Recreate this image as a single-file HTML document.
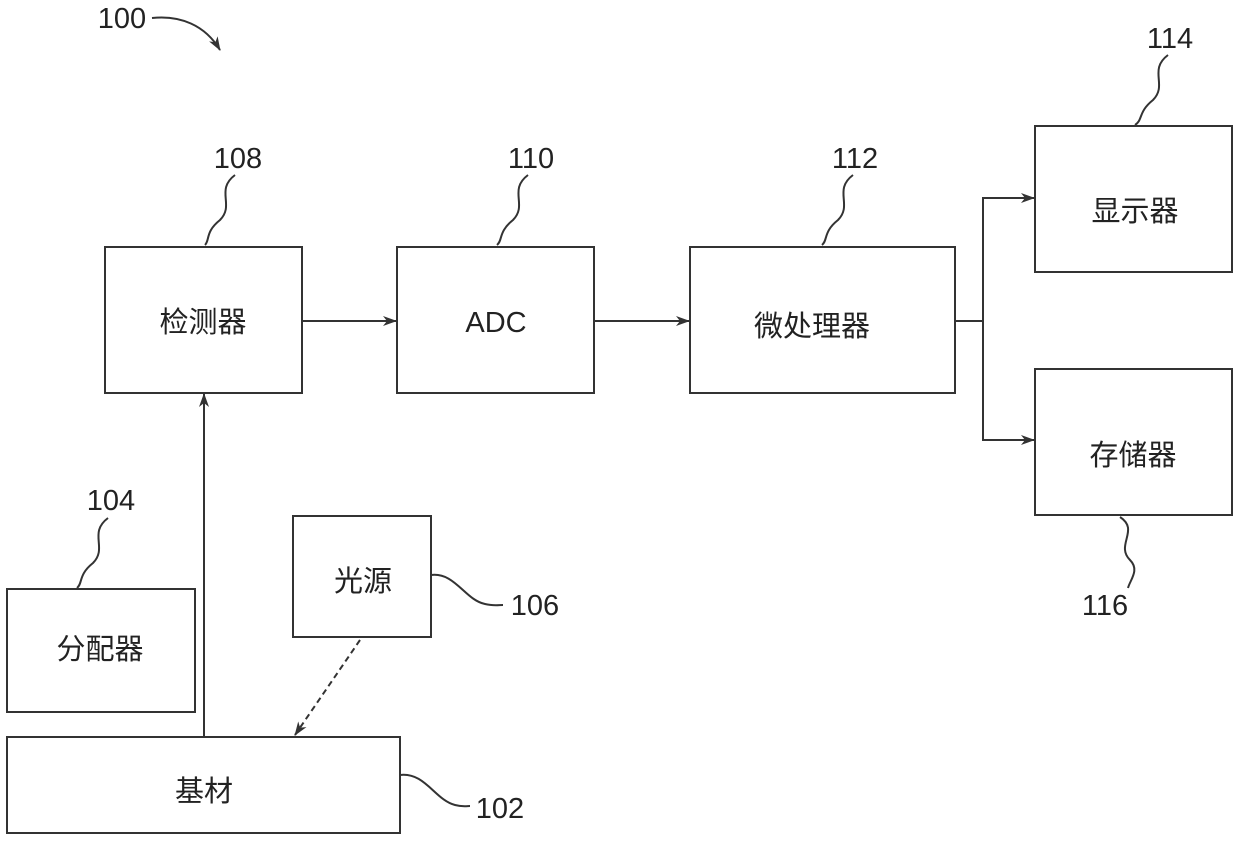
<!DOCTYPE html>
<html><head><meta charset="utf-8"><style>
html,body{margin:0;padding:0;background:#fff;}
svg{display:block;}
text{font-family:"Liberation Sans","Noto Sans CJK SC",sans-serif;fill:#222;}
</style></head><body>
<svg width="1240" height="841" viewBox="0 0 1240 841" xmlns="http://www.w3.org/2000/svg">
<defs>
<marker id="a" markerWidth="14" markerHeight="10" refX="13" refY="5" orient="auto" markerUnits="userSpaceOnUse">
<path d="M0,0 L14,5 L0,10 L4,5 Z" fill="#333"/></marker>
</defs>
<g fill="none" stroke="#333" stroke-width="2">
<rect x="105" y="247" width="197" height="146"/>
<rect x="397" y="247" width="197" height="146"/>
<rect x="690" y="247" width="265" height="146"/>
<rect x="1035" y="126" width="197" height="146"/>
<rect x="1035" y="369" width="197" height="146"/>
<rect x="7" y="589" width="188" height="123"/>
<rect x="293" y="516" width="138" height="121"/>
<rect x="7" y="737" width="393" height="96"/>
<line x1="302" y1="321" x2="396" y2="321" marker-end="url(#a)"/>
<line x1="594" y1="321" x2="689" y2="321" marker-end="url(#a)"/>
<path d="M955,321 H983 V198 H1034" marker-end="url(#a)"/>
<path d="M983,321 V440 H1034" marker-end="url(#a)"/>
<line x1="204" y1="737" x2="204" y2="394" marker-end="url(#a)"/>
<line x1="360" y1="640" x2="295" y2="735" stroke-dasharray="6,4" marker-end="url(#a)"/>
<path d="M152,18 C180,15 205,25 220,50" marker-end="url(#a)"/>
<path d="M235,175 C215,190 235,205 220,220 C205,232 210,240 205,245"/>
<path d="M528,175 C508,190 528,205 513,220 C498,232 503,240 497,245"/>
<path d="M853,175 C833,190 853,205 838,220 C823,232 828,240 822,245"/>
<path d="M1168,55 C1148,70 1168,85 1153,100 C1138,112 1143,120 1135,125"/>
<path d="M1120,517 C1140,530 1115,545 1130,560 C1140,570 1130,580 1128,588"/>
<path d="M108,518 C88,533 108,548 93,563 C78,575 83,583 77,588"/>
<path d="M431,575 C455,572 465,600 485,604 C493,606 498,605 503,605"/>
<path d="M400,775 C425,772 435,800 455,805 C462,807 467,806 470,806"/>
</g>
<g font-size="29" text-anchor="middle">
<text x="203" y="332">检测器</text>
<text x="496" y="332">ADC</text>
<text x="812" y="336">微处理器</text>
<text x="1135" y="221">显示器</text>
<text x="1133" y="465">存储器</text>
<text x="100" y="659">分配器</text>
<text x="363" y="591">光源</text>
<text x="204" y="801">基材</text>
<text x="122" y="28">100</text>
<text x="238" y="168">108</text>
<text x="531" y="168">110</text>
<text x="855" y="168">112</text>
<text x="1170" y="48">114</text>
<text x="1105" y="615">116</text>
<text x="111" y="510">104</text>
<text x="535" y="615">106</text>
<text x="500" y="818">102</text>
</g>
</svg>
</body></html>
